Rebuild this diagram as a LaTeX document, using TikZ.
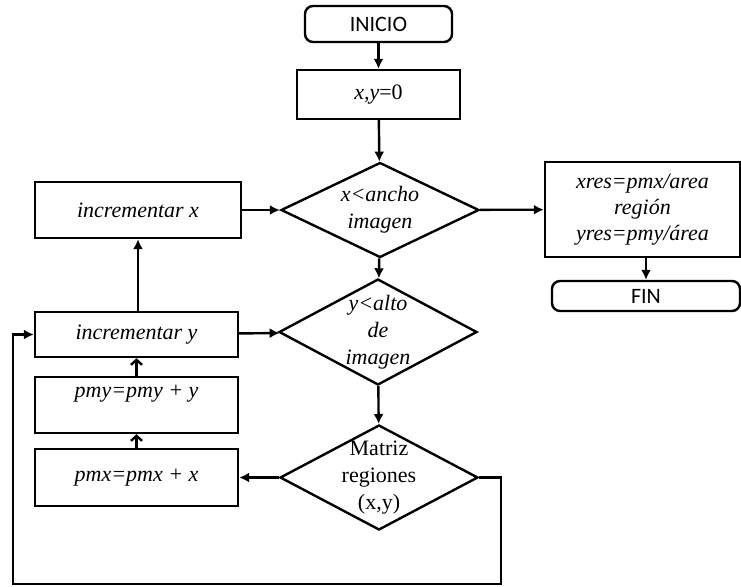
\documentclass[tikz,border=0pt]{standalone}
\usepackage{fontspec}
\setmainfont{Liberation Serif}
\newfontfamily\calibri{Carlito}
\usetikzlibrary{shapes.geometric, arrows.meta}

\tikzset{
	linea/.style={line width=1.2pt},
	caja/.style={draw, linea, align=center, inner sep=0pt,
		font=\fontsize{11}{13.5}\selectfont\itshape},
	terminal/.style={draw, linea, rounded corners=4pt, inner sep=0pt,
		font=\fontsize{11}{13}\selectfont\calibri},
	decision/.style={draw, linea, diamond, aspect=1.9, inner sep=-3pt, align=center,
		minimum width=99pt, font=\fontsize{11}{13.5}\selectfont\itshape},
	flecha/.style={linea, -{Latex[length=5pt, width=5pt]}},
	flechab/.style={linea, -{Straight Barb[length=2.5pt, width=5.5pt]}},
}

\begin{document}
\begin{tikzpicture}[x=0.5pt, y=-0.5pt]

			\useasboundingbox (0,0) rectangle (741,586);

			\node[terminal, minimum width=73.5pt, minimum height=18pt] (inicio) at (378.5,24) {INICIO};
			\node[caja, minimum width=81.5pt, minimum height=24.5pt] (xy0) at (378.5,94.5) {x,y\textup{=0}};

			\node[decision, minimum height=47.5pt] (cond1) at (380,210) {x<ancho\\imagen};
			\node[caja, minimum width=103pt, minimum height=28pt] (incx) at (138,210) {incrementar x};

			\node[caja, minimum width=97.5pt, minimum height=47.5pt, font=\fontsize{11}{13}\selectfont\itshape] (res) at (642.5,209.5) {xres=pmx/area\\región\\yres=pmy/área};
			\node[terminal, minimum width=94pt, minimum height=15pt] (fin) at (646,296) {FIN};

			\node[decision, minimum height=53pt] (cond2) at (378,332) {y<alto\\de\\imagen};
			\node[caja, minimum width=101.5pt, minimum height=22.5pt] (incy) at (136.5,334.5) {incrementar y};
			\node[caja, minimum width=101.5pt, minimum height=28pt] (pmy) at (136.5,405) {pmy=pmy + y\\ \mbox{}};
			\node[caja, minimum width=101.5pt, minimum height=28.5pt] (pmx) at (136.5,477.5) {pmx=pmx + x};

			\node[decision, minimum height=52.5pt, font=\fontsize{11}{13.5}\selectfont\upshape] (cond3) at (379,477.5) {Matriz\\regiones\\(x,y)};

			\coordinate (lazoder) at (501,584);
			\coordinate (lazoizq) at (13,584);

			\draw[flecha] (inicio) -- (xy0);
			\draw[flecha] (xy0) -- (cond1);
			\draw[flecha] (incx) -- (cond1);
			\draw[flecha] (cond1) -- (res);
			\draw[flecha] (fin.north |- res.south) -- (fin.north);
			\draw[flecha] (cond1) -- (cond2);
			\draw[flecha] (incy.north -| incx.south) -- (incx.south);
			\draw[flecha] (incy) -- (cond2);
			\draw[flecha] (cond2) -- (cond3);
			\draw[flecha] (cond3) -- (pmx);
			\draw[flechab] (pmx) -- (pmy);
			\draw[flechab] (pmy) -- (incy);
			\draw[flecha] (cond3.east) -| (lazoder) -- (lazoizq) |- (incy.west);
		\end{tikzpicture}
\end{document}
